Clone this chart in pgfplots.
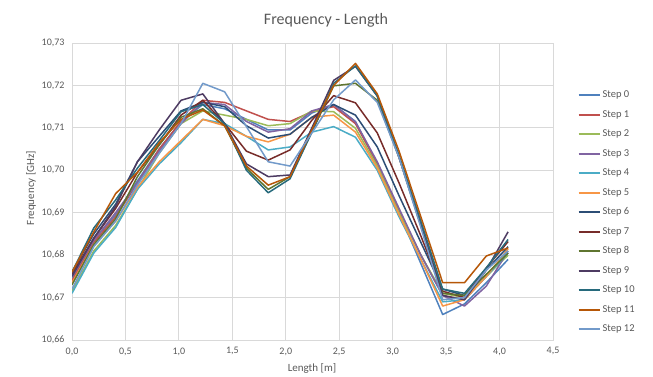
\documentclass[border=0pt]{standalone}
\usepackage{fontspec}
\setmainfont{Carlito}
\usepackage{pgfplots}
\pgfplotsset{compat=1.18}
\definecolor{txtgray}{HTML}{595959}
\definecolor{gridgray}{HTML}{D9D9D9}
\definecolor{c0}{HTML}{4F81BD}
\definecolor{c1}{HTML}{C0504D}
\definecolor{c2}{HTML}{9BBB59}
\definecolor{c3}{HTML}{8064A2}
\definecolor{c4}{HTML}{4BACC6}
\definecolor{c5}{HTML}{F79646}
\definecolor{c6}{HTML}{2C4D75}
\definecolor{c7}{HTML}{772C2A}
\definecolor{c8}{HTML}{5F7530}
\definecolor{c9}{HTML}{4D3B62}
\definecolor{c10}{HTML}{276A7C}
\definecolor{c11}{HTML}{B65708}
\definecolor{c12}{HTML}{729ACA}
\begin{document}
\begin{tikzpicture}[x=1pt,y=1pt]
\useasboundingbox (0,0) rectangle (653,376);
\begin{axis}[
  at={(72pt,36pt)}, anchor=south west,
  scale only axis, width=481pt, height=297pt,
  xmin=0, xmax=4.5, ymin=10.66, ymax=10.73,
  xtick={0,0.5,1,1.5,2,2.5,3,3.5,4,4.5},
  ytick={10.66,10.67,10.68,10.69,10.70,10.71,10.72,10.73},
  xticklabel style={/pgf/number format/use comma,/pgf/number format/fixed,/pgf/number format/fixed zerofill,/pgf/number format/precision=1, yshift=-4pt},
  yticklabel style={/pgf/number format/use comma,/pgf/number format/fixed,/pgf/number format/fixed zerofill,/pgf/number format/precision=2, xshift=-4pt},
  /pgf/number format/assume math mode=true,
  scaled y ticks=false,
  grid=major,
  grid style={draw=gridgray, line width=0.8pt},
  axis line style={draw=gridgray, line width=0.8pt},
  major tick style={draw=none},
  ticklabel style={font=\fontsize{10}{12}\selectfont, text=txtgray},
  every axis plot/.append style={line width=1.5pt, line join=round, no markers},
  legend cell align=left,
  legend style={at={(1.045,0.85)}, anchor=north west, draw=none, fill=none,
    font=\fontsize{10.5}{12}\selectfont, text=txtgray, row sep=8.5pt,
    nodes={text height=7pt, text depth=2pt, inner ysep=1pt}},
  legend image code/.code={\draw[#1, line width=1.8pt] (0pt,0pt) -- (21pt,0pt);},
]
\addplot[c0] coordinates {(0,10.6745)(0.204,10.6835)(0.408,10.6895)(0.612,10.6975)(0.816,10.705)(1.02,10.7115)(1.224,10.7155)(1.428,10.7145)(1.632,10.712)(1.836,10.7095)(2.04,10.7095)(2.244,10.7135)(2.448,10.7155)(2.652,10.7115)(2.856,10.7015)(3.06,10.690)(3.264,10.678)(3.468,10.666)(3.672,10.6685)(3.876,10.6735)(4.08,10.679)};
\addlegendentry{Step 0}
\addplot[c1] coordinates {(0,10.674)(0.204,10.683)(0.408,10.689)(0.612,10.697)(0.816,10.705)(1.02,10.7115)(1.224,10.7165)(1.428,10.716)(1.632,10.714)(1.836,10.712)(2.04,10.7115)(2.244,10.7138)(2.448,10.715)(2.652,10.711)(2.856,10.7015)(3.06,10.6905)(3.264,10.680)(3.468,10.6705)(3.672,10.6695)(3.876,10.675)(4.08,10.6805)};
\addlegendentry{Step 1}
\addplot[c2] coordinates {(0,10.6715)(0.204,10.681)(0.408,10.687)(0.612,10.6955)(0.816,10.704)(1.02,10.711)(1.224,10.714)(1.428,10.713)(1.632,10.712)(1.836,10.7105)(2.04,10.711)(2.244,10.714)(2.448,10.7138)(2.652,10.7099)(2.856,10.701)(3.06,10.690)(3.264,10.680)(3.468,10.671)(3.672,10.670)(3.876,10.675)(4.08,10.680)};
\addlegendentry{Step 2}
\addplot[c3] coordinates {(0,10.675)(0.204,10.6835)(0.408,10.690)(0.612,10.697)(0.816,10.7045)(1.02,10.711)(1.224,10.716)(1.428,10.7155)(1.632,10.7115)(1.836,10.709)(2.04,10.7098)(2.244,10.714)(2.448,10.7155)(2.652,10.7114)(2.856,10.702)(3.06,10.691)(3.264,10.680)(3.468,10.6705)(3.672,10.668)(3.876,10.6727)(4.08,10.681)};
\addlegendentry{Step 3}
\addplot[c4] coordinates {(0,10.671)(0.204,10.6805)(0.408,10.6865)(0.612,10.6955)(0.816,10.7015)(1.02,10.7065)(1.224,10.712)(1.428,10.711)(1.632,10.708)(1.836,10.7048)(2.04,10.7055)(2.244,10.709)(2.448,10.7103)(2.652,10.7078)(2.856,10.700)(3.06,10.689)(3.264,10.679)(3.468,10.669)(3.672,10.6695)(3.876,10.675)(4.08,10.6805)};
\addlegendentry{Step 4}
\addplot[c5] coordinates {(0,10.6735)(0.204,10.6825)(0.408,10.688)(0.612,10.696)(0.816,10.702)(1.02,10.707)(1.224,10.712)(1.428,10.7105)(1.632,10.708)(1.836,10.7067)(2.04,10.7085)(2.244,10.7125)(2.448,10.713)(2.652,10.709)(2.856,10.7005)(3.06,10.6895)(3.264,10.679)(3.468,10.668)(3.672,10.6695)(3.876,10.675)(4.08,10.6815)};
\addlegendentry{Step 5}
\addplot[c6] coordinates {(0,10.676)(0.204,10.685)(0.408,10.692)(0.612,10.702)(0.816,10.708)(1.02,10.714)(1.224,10.716)(1.428,10.715)(1.632,10.7105)(1.836,10.7076)(2.04,10.7085)(2.244,10.7125)(2.448,10.7155)(2.652,10.713)(2.856,10.7055)(3.06,10.694)(3.264,10.683)(3.468,10.672)(3.672,10.6705)(3.876,10.6765)(4.08,10.682)};
\addlegendentry{Step 6}
\addplot[c7] coordinates {(0,10.6755)(0.204,10.684)(0.408,10.691)(0.612,10.6995)(0.816,10.706)(1.02,10.713)(1.224,10.7165)(1.428,10.711)(1.632,10.7045)(1.836,10.7024)(2.04,10.7048)(2.244,10.7118)(2.448,10.7176)(2.652,10.7159)(2.856,10.7088)(3.06,10.697)(3.264,10.6845)(3.468,10.6715)(3.672,10.670)(3.876,10.677)(4.08,10.6832)};
\addlegendentry{Step 7}
\addplot[c8] coordinates {(0,10.673)(0.204,10.6825)(0.408,10.6885)(0.612,10.6985)(0.816,10.706)(1.02,10.7125)(1.224,10.7145)(1.428,10.7105)(1.632,10.7005)(1.836,10.6955)(2.04,10.6985)(2.244,10.709)(2.448,10.7199)(2.652,10.7205)(2.856,10.7165)(3.06,10.703)(3.264,10.687)(3.468,10.671)(3.672,10.6705)(3.876,10.6755)(4.08,10.6805)};
\addlegendentry{Step 8}
\addplot[c9] coordinates {(0,10.675)(0.204,10.684)(0.408,10.6915)(0.612,10.702)(0.816,10.7095)(1.02,10.7165)(1.224,10.718)(1.428,10.711)(1.632,10.7015)(1.836,10.6985)(2.04,10.6989)(2.244,10.710)(2.448,10.7212)(2.652,10.7245)(2.856,10.7175)(3.06,10.703)(3.264,10.687)(3.468,10.6705)(3.672,10.6695)(3.876,10.6765)(4.08,10.6855)};
\addlegendentry{Step 9}
\addplot[c10] coordinates {(0,10.676)(0.204,10.6864)(0.408,10.693)(0.612,10.7005)(0.816,10.707)(1.02,10.7138)(1.224,10.7155)(1.428,10.711)(1.632,10.700)(1.836,10.6947)(2.04,10.698)(2.244,10.709)(2.448,10.7205)(2.652,10.7246)(2.856,10.7175)(3.06,10.7035)(3.264,10.688)(3.468,10.672)(3.672,10.671)(3.876,10.677)(4.08,10.6837)};
\addlegendentry{Step 10}
\addplot[c11] coordinates {(0,10.676)(0.204,10.6855)(0.408,10.6945)(0.612,10.6995)(0.816,10.7065)(1.02,10.712)(1.224,10.7142)(1.428,10.7105)(1.632,10.701)(1.836,10.6965)(2.04,10.6985)(2.244,10.7095)(2.448,10.720)(2.652,10.7252)(2.856,10.718)(3.06,10.7045)(3.264,10.689)(3.468,10.6735)(3.672,10.6735)(3.876,10.6798)(4.08,10.6817)};
\addlegendentry{Step 11}
\addplot[c12] coordinates {(0,10.672)(0.204,10.682)(0.408,10.688)(0.612,10.6965)(0.816,10.704)(1.02,10.711)(1.224,10.7205)(1.428,10.7185)(1.632,10.7103)(1.836,10.702)(2.04,10.701)(2.244,10.7088)(2.448,10.7166)(2.652,10.7213)(2.856,10.716)(3.06,10.703)(3.264,10.6865)(3.468,10.6695)(3.672,10.670)(3.876,10.6765)(4.08,10.681)};
\addlegendentry{Step 12}
\end{axis}
\node[text=txtgray, font=\fontsize{16}{18}\selectfont] at (326,356) {Frequency - Length};
\node[text=txtgray, font=\fontsize{11}{13}\selectfont] at (312,8) {Length [m]};
\node[text=txtgray, font=\fontsize{11}{13}\selectfont, rotate=90] at (31,188) {Frequency [GHz]};
\end{tikzpicture}
\end{document}
